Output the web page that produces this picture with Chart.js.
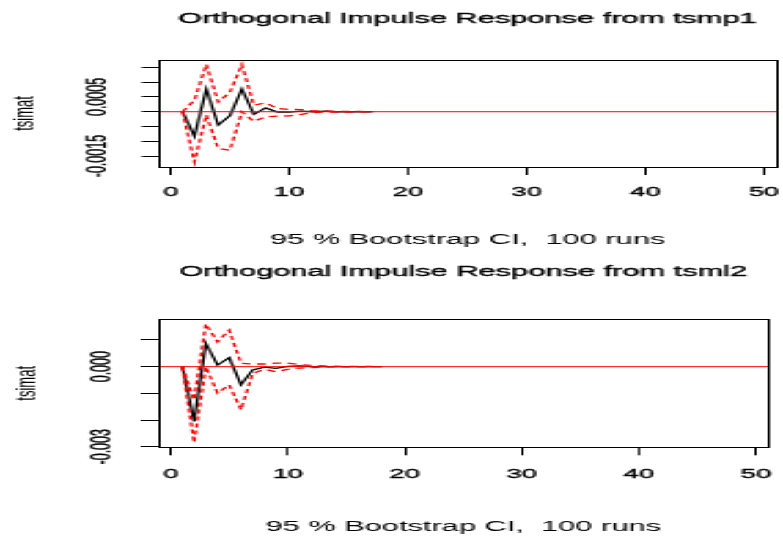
<!DOCTYPE html>
<html>
<head>
<meta charset="utf-8">
<title>Orthogonal Impulse Response</title>
<script src="https://cdn.jsdelivr.net/npm/chart.js@4.4.1/dist/chart.umd.min.js"></script>
<style>
  html, body { margin: 0; padding: 0; background: #fff; }
  #page { width: 783px; height: 545px; overflow: hidden; }
  /* panels are laid out narrow, then widened to the page like the saved plot */
  #sheet { width: 356px; height: 545px; transform: scaleX(2.19944); transform-origin: 0 0; }
  .panel { position: relative; width: 356px; }
  #panelTop { height: 255px; }
  #panelBottom { height: 290px; }
</style>
</head>
<body>
<div id="page">
  <div id="sheet">
    <div class="panel" id="panelTop"><canvas id="irfTop"></canvas></div>
    <div class="panel" id="panelBottom"><canvas id="irfBottom"></canvas></div>
  </div>
</div>
<script>
// response of tsimat to a tsmp1 shock, with bootstrap band
const stepsMp1 = [1, 2, 3, 4, 5, 6, 7, 8, 9, 10, 11, 12, 13, 14, 15, 16, 17];
const irfMp1   = [0, -0.00083, 0.00077, -0.00045, -0.00013, 0.00077, -0.00009, 0.00013, -0.00001, -0.00001, 0.00002, 0, 0.00002, 0, 0, 0, 0];
const upperMp1 = [0, 0.00039, 0.0016, 0.00033, 0.00066, 0.0016, 0.00022, 0.0003, 0.00011, 0.00008, 0.00007, 0.00003, 0.00003, 0.00001, 0.00001, 0.00001, 0];
const lowerMp1 = [0, -0.0017, -0.00011, -0.00124, -0.0013, 0, -0.00033, -0.00017, -0.00015, -0.00014, -0.00009, -0.00003, -0.00001, -0.00001, -0.00001, 0, 0];

// response of tsimat to a tsml2 shock, with bootstrap band
const stepsMl2 = [1, 2, 3, 4, 5, 6, 7, 8, 9, 10, 11, 12, 13, 14, 15, 16, 17, 18];
const irfMl2   = [0, -0.00205, 0.00087, 0.00006, 0.00034, -0.00068, -0.00012, -0.00002, -0.00006, 0.00001, 0.00003, 0, 0, 0, 0, 0, 0, 0];
const upperMl2 = [0, -0.00124, 0.0016, 0.00093, 0.00137, 0.00013, 0.0001, 0.0001, 0.00013, 0.00013, 0.00008, 0.00005, 0.00003, 0.00002, 0.00001, 0.00001, 0.00001, 0];
const lowerMl2 = [0, -0.00284, 0, -0.00099, -0.00068, -0.00161, -0.00025, -0.0001, -0.00019, -0.0001, -0.00005, -0.00003, -0.00002, -0.00001, -0.00001, -0.00001, 0, 0];

const xTicks = [0, 10, 20, 30, 40, 50];
const xTickLabels = ["0", "10", "20", "30", "40", "50"];

const yTicksMp1 = [-0.0015, -0.001, -0.0005, 0, 0.0005, 0.001, 0.0015];
const yLabelsMp1 = ["-0.0015", "", "", "", "0.0005", "", ""];
const yTicksMl2 = [-0.003, -0.002, -0.001, 0, 0.001];
const yLabelsMl2 = ["-0.003", "", "", "0.000", ""];

const SUB_TEXT = "95 % Bootstrap CI,  100 runs";
const RED = "#ff0000";
const INK = 0.35; // a touch of stroke so the small text isn't too thin

Chart.defaults.font.family = '"Liberation Sans", Arial, sans-serif';
Chart.defaults.color = "#000";

// zero line, plot box and main title
const rFrame = {
  id: "rFrame",
  afterDatasetsDraw(chart, args, opts) {
    const { ctx, chartArea: a, scales } = chart;
    const snap = v => Math.round(v) + 0.5;
    const y0 = scales.y.getPixelForValue(0);
    const l = snap(a.left), r = snap(a.right), t = snap(a.top), b = snap(a.bottom);
    ctx.save();
    ctx.lineWidth = 1;
    ctx.strokeStyle = RED;
    ctx.beginPath();
    ctx.moveTo(l, y0);
    ctx.lineTo(r, y0);
    ctx.stroke();
    ctx.strokeStyle = "#000";
    ctx.strokeRect(l, t, r - l, b - t);
    ctx.restore();
  },
  afterDraw(chart, args, opts) {
    const { ctx, chartArea: a } = chart;
    ctx.save();
    ctx.font = '14px "Liberation Sans", Arial, sans-serif';
    ctx.fillStyle = "#000";
    ctx.strokeStyle = "#000";
    ctx.lineWidth = INK;
    ctx.textAlign = "center";
    ctx.textBaseline = "middle";
    const cx = (a.left + a.right) / 2;
    ctx.fillText(opts.title, cx, opts.titleY);
    ctx.strokeText(opts.title, cx, opts.titleY);
    ctx.restore();
  }
};

function pairs(steps, vals) {
  return steps.map((t, i) => ({ x: t, y: vals[i] }));
}

function drawPanel(canvasId, cfg) {
  return new Chart(document.getElementById(canvasId), {
    type: "line",
    data: {
      datasets: [
        { data: pairs(cfg.steps, cfg.upper), borderColor: RED, borderDash: [4, 3], order: 1 },
        { data: pairs(cfg.steps, cfg.lower), borderColor: RED, borderDash: [4, 3], order: 2 },
        { data: pairs(cfg.steps, cfg.irf), borderColor: "#000", order: 3 }
      ]
    },
    options: {
      responsive: true,
      maintainAspectRatio: false,
      animation: false,
      devicePixelRatio: 1,
      events: [],
      layout: { padding: cfg.pad },
      elements: {
        point: { radius: 0 },
        line: { borderWidth: 1.3, tension: 0, fill: false }
      },
      plugins: {
        legend: { display: false },
        tooltip: { enabled: false },
        rFrame: { title: cfg.title, titleY: cfg.titleY }
      },
      scales: {
        x: {
          type: "linear",
          min: cfg.xMin,
          max: cfg.xMax,
          afterBuildTicks: s => { s.ticks = xTicks.map(v => ({ value: v })); },
          afterFit: s => { s.height = cfg.xHeight; s.paddingLeft = 0; s.paddingRight = 0; },
          border: { display: false },
          grid: { drawOnChartArea: false, tickLength: 8, color: "#000" },
          ticks: {
            autoSkip: false,
            maxRotation: 0,
            padding: cfg.xTickPad,
            font: { size: 12.5 },
            textStrokeColor: "#000",
            textStrokeWidth: INK,
            callback: (v, i) => xTickLabels[i]
          },
          title: {
            display: true,
            text: SUB_TEXT,
            font: { size: 14 },
            padding: { top: 0, bottom: cfg.subPad }
          }
        },
        y: {
          type: "linear",
          min: cfg.yMin,
          max: cfg.yMax,
          afterBuildTicks: s => { s.ticks = cfg.yTicks.map(v => ({ value: v })); },
          afterFit: s => { s.width = cfg.yWidth; s.paddingTop = 0; s.paddingBottom = 0; },
          border: { display: false },
          grid: { drawOnChartArea: false, tickLength: 8, color: "#000" },
          ticks: {
            autoSkip: false,
            minRotation: 90,
            maxRotation: 90,
            crossAlign: "center",
            padding: cfg.yTickPad,
            font: { size: 12.5 },
            textStrokeColor: "#000",
            textStrokeWidth: INK,
            callback: (v, i) => cfg.yLabels[i]
          },
          title: {
            display: true,
            text: "tsimat",
            font: { size: 13 },
            padding: { top: cfg.ylabPad, bottom: 0 }
          }
        }
      }
    },
    plugins: [rFrame]
  });
}

drawPanel("irfTop", {
  title: "Orthogonal Impulse Response from tsmp1",
  titleY: 19,
  steps: stepsMp1, irf: irfMp1, upper: upperMp1, lower: lowerMp1,
  xMin: -0.96, xMax: 50.99,
  yMin: -0.00187, yMax: 0.00175,
  yTicks: yTicksMp1, yLabels: yLabelsMp1,
  pad: { top: 60, right: 3.32, bottom: 0, left: 0 },
  yWidth: 72.43, xHeight: 88,
  xTickPad: 10.5, yTickPad: -1.76, subPad: 6.6, ylabPad: 4.0
});

drawPanel("irfBottom", {
  title: "Orthogonal Impulse Response from tsml2",
  titleY: 17,
  steps: stepsMl2, irf: irfMl2, upper: upperMl2, lower: lowerMl2,
  xMin: -1.06, xMax: 51.03,
  yMin: -0.00302, yMax: 0.001775,
  yTicks: yTicksMl2, yLabels: yLabelsMl2,
  pad: { top: 64.3, right: 6.82, bottom: 0, left: 0 },
  yWidth: 71.97, xHeight: 97.7,
  xTickPad: 11.7, yTickPad: -0.75, subPad: 9.6, ylabPad: 4.7
});
</script>
</body>
</html>
